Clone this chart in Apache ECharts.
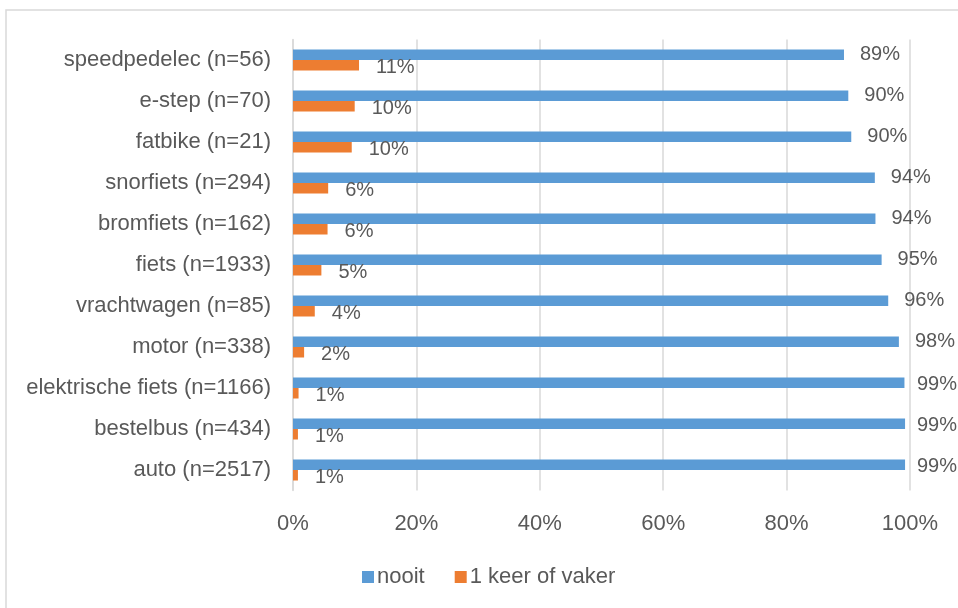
<!DOCTYPE html>
<html>
<head>
<meta charset="utf-8">
<script src="https://cdn.jsdelivr.net/npm/echarts@6/dist/echarts.min.js"></script>
<style>html,body{margin:0;padding:0;background:#fff}#c{width:958px;height:608px}</style>
</head>
<body>
<div id="c"></div>
<script>
// categories bottom-to-top (ECharts category axis starts at bottom)
const categories = ['auto (n=2517)','bestelbus (n=434)','elektrische fiets (n=1166)','motor (n=338)','vrachtwagen (n=85)','fiets (n=1933)','bromfiets (n=162)','snorfiets (n=294)','fatbike (n=21)','e-step (n=70)','speedpedelec (n=56)'];
const nooit = [99.2, 99.2, 99.1, 98.2, 96.47, 95.4, 94.4, 94.3, 90.48, 90.0, 89.3];
const vaker = [0.8, 0.8, 0.9, 1.8, 3.53, 4.6, 5.6, 5.7, 9.52, 10.0, 10.7];
const xTicks = [0, 20, 40, 60, 80, 100];

const FONT = 'Liberation Sans';
const TXT = '#595959';
const chart = echarts.init(document.getElementById('c'), null, {renderer: 'canvas'});
const keepInside = p => {
  const r = p.labelRect;
  if (r.x + r.width > 957) return {x: 957 - r.width, y: r.y + r.height / 2, align: 'left', verticalAlign: 'middle'};
  return {};
};
chart.setOption({
  animation: false,
  backgroundColor: '#fff',
  textStyle: {fontFamily: FONT},
  graphic: [{type: 'rect', shape: {x: 6, y: 10, width: 1000, height: 700}, style: {fill: 'none', stroke: '#D9D9D9', lineWidth: 1.5}, silent: true}],
  legend: {
    left: 362, top: 566, padding: 0, itemWidth: 12, itemHeight: 12, itemGap: 30,
    icon: 'rect',
    data: ['nooit', '1 keer of vaker'],
    textStyle: {fontFamily: FONT, fontSize: 22, color: TXT, padding: [0, 0, 0, -2]}
  },
  grid: {left: 293, right: 48, top: 39.5, bottom: 117.5, containLabel: false},
  xAxis: {
    type: 'value', min: 0, max: 100, interval: 20,
    axisLine: {show: false}, axisTick: {show: false},
    splitLine: {show: true, lineStyle: {color: '#D9D9D9', width: 1.5}},
    axisLabel: {fontFamily: FONT, fontSize: 22, color: TXT, margin: 22,
      formatter: v => xTicks.indexOf(v) >= 0 ? v + '%' : ''}
  },
  yAxis: {
    type: 'category', data: categories,
    axisLine: {show: true, lineStyle: {color: '#D9D9D9', width: 1.5}},
    axisTick: {show: false},
    axisLabel: {fontFamily: FONT, fontSize: 22, color: TXT, margin: 22}
  },
  series: [
    {name: 'nooit', type: 'bar', data: nooit, barWidth: 10.5, barGap: '0%',
      itemStyle: {color: '#5B9BD5'},
      labelLayout: keepInside,
      label: {show: true, position: 'right', distance: 16, offset: [0, 2], fontFamily: FONT, fontSize: 20, color: TXT,
        formatter: p => Math.round(p.value) + '%'}},
    {name: '1 keer of vaker', type: 'bar', data: vaker, barWidth: 10.5, barGap: '0%',
      itemStyle: {color: '#ED7D31'},
      label: {show: true, position: 'right', distance: 17, offset: [0, 2], fontFamily: FONT, fontSize: 20, color: TXT,
        formatter: p => Math.round(p.value) + '%'}}
  ]
});
</script>
</body>
</html>
